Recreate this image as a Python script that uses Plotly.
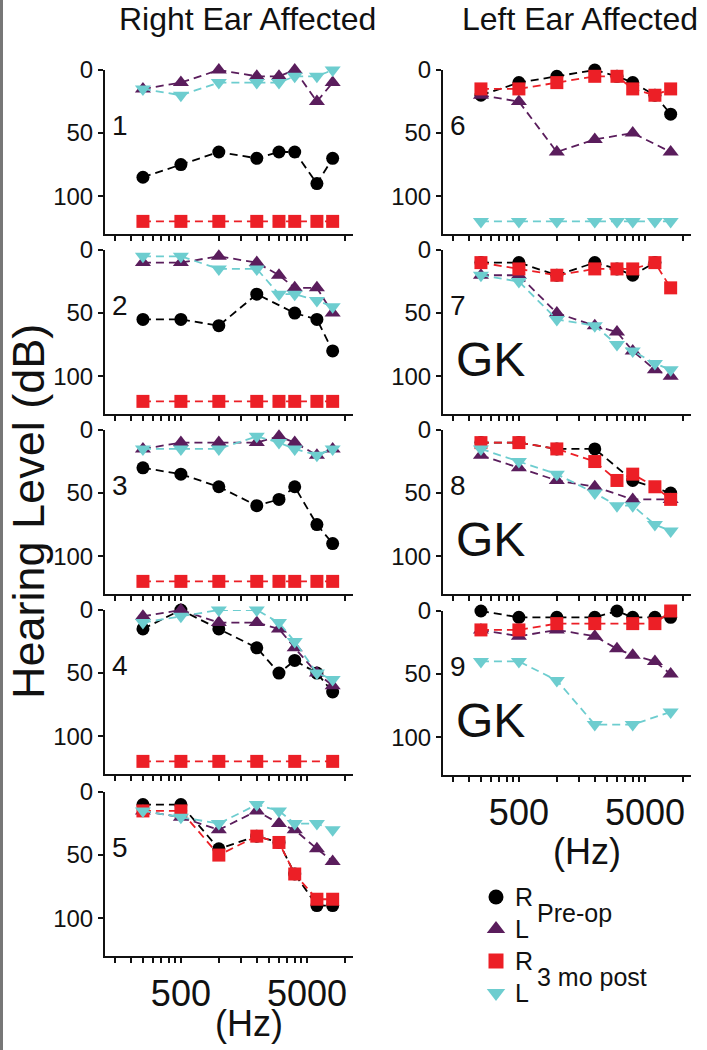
import math
import plotly.graph_objects as go

W, H = 707, 1050

# ---------------- data ----------------
FREQS = [250, 500, 1000, 2000, 3000, 4000, 6000, 8000]

# Right ear affected (panels 1-5)
P1_R_PRE = [85, 75, 65, 70, 65, 65, 90, 70]
P1_L_PRE = [15, 10, 0, 5, 5, 0, 25, 10]
P1_R_POST = [120, 120, 120, 120, 120, 120, 120, 120]
P1_L_POST = [15, 20, 10, 10, 10, 5, 5, 0]

P2_R_PRE = [55, 55, 60, 35, None, 50, 55, 80]
P2_L_PRE = [10, 10, 5, 10, 20, 30, 30, 50]
P2_R_POST = [120, 120, 120, 120, 120, 120, 120, 120]
P2_L_POST = [5, 5, 15, 15, 35, 35, 40, 45]

P3_R_PRE = [30, 35, 45, 60, 55, 45, 75, 90]
P3_L_PRE = [15, 10, 10, 10, 5, 10, 20, 15]
P3_R_POST = [120, 120, 120, 120, 120, 120, 120, 120]
P3_L_POST = [15, 15, 15, 5, 10, 15, 20, 15]

P4_R_PRE = [15, 0, 15, 30, 50, 40, 50, 65]
P4_L_PRE = [5, 0, 10, 10, 15, 30, 50, 60]
P4_R_POST = [120, 120, 120, 120, None, 120, None, 120]
P4_L_POST = [10, 5, 0, 0, 10, 25, 50, 55]

P5_R_PRE = [10, 10, 45, 35, 40, 65, 90, 90]
P5_L_PRE = [15, 20, 30, 15, 25, 30, 45, 55]
P5_R_POST = [15, 15, 50, 35, 40, 65, 85, 85]
P5_L_POST = [15, 20, 25, 10, 15, 25, 25, 30]

# Left ear affected (panels 6-9)
P6_R_PRE = [20, 10, 5, 0, 5, 10, 20, 35]
P6_L_PRE = [20, 25, 65, 55, None, 50, None, 65]
P6_R_POST = [15, 15, 10, 5, 5, 15, 20, 15]
P6_L_POST = [120, 120, 120, 120, 120, 120, 120, 120]

P7_R_PRE = [10, 10, 20, 10, 15, 20, 10, None]
P7_L_PRE = [20, 20, 50, 60, 65, 80, 95, 100]
P7_R_POST = [10, 15, 20, 15, 15, 15, 10, 30]
P7_L_POST = [20, 25, 55, 60, 75, 80, 90, 95]

P8_R_PRE = [10, 10, 15, 15, None, 40, None, 50]
P8_L_PRE = [20, 30, 40, 45, None, 55, None, 55]
P8_R_POST = [10, 10, 15, 25, 40, 35, 45, 55]
P8_L_POST = [15, 25, 35, 50, 60, 60, 75, 80]

P9_R_PRE = [0, 5, 5, 5, 0, 5, 5, 5]
P9_L_PRE = [15, 20, 15, 20, 30, 35, 40, 50]
P9_R_POST = [15, 15, 10, 10, None, 10, 10, 0]
P9_L_POST = [40, 40, 55, 90, None, 90, None, 80]

PANEL_LABELS = ["1", "2", "3", "4", "5", "6", "7", "8", "9"]
GK_PANELS = ["7", "8", "9"]
COLUMN_TITLES = ["Right Ear Affected", "Left Ear Affected"]
Y_TITLE = "Hearing Level (dB)"
X_TITLE = "(Hz)"

XTICK_VALS = [150, 200, 250, 300, 350, 400, 450, 500, 1000, 1500, 2000, 2500,
              3000, 3500, 4000, 4500, 5000, 10000]
XTICK_LABELED = {500: "500", 5000: "5000"}
YTICK_VALS = [0, 50, 100]

LEGEND_SYMBOL_LABELS = ["R", "L", "R", "L"]
LEGEND_GROUPS = ["Pre-op", "3 mo post"]

PANELS = [
    (P1_R_PRE, P1_L_PRE, P1_R_POST, P1_L_POST),
    (P2_R_PRE, P2_L_PRE, P2_R_POST, P2_L_POST),
    (P3_R_PRE, P3_L_PRE, P3_R_POST, P3_L_POST),
    (P4_R_PRE, P4_L_PRE, P4_R_POST, P4_L_POST),
    (P5_R_PRE, P5_L_PRE, P5_R_POST, P5_L_POST),
    (P6_R_PRE, P6_L_PRE, P6_R_POST, P6_L_POST),
    (P7_R_PRE, P7_L_PRE, P7_R_POST, P7_L_POST),
    (P8_R_PRE, P8_L_PRE, P8_R_POST, P8_L_POST),
    (P9_R_PRE, P9_L_PRE, P9_R_POST, P9_L_POST),
]

# ---------------- styles ----------------
FONT = "Liberation Sans, Arial, sans-serif"
SERIES_STYLE = [
    dict(symbol="circle", color="#000000", size=13),
    dict(symbol="triangle-up", color="#5a1d5c", size=14),
    dict(symbol="square", color="#ec1f26", size=13),
    dict(symbol="triangle-down", color="#6dcdcf", size=14),
]

# pixel geometry
COL_X = [(105, 353), (443, 691)]
LEFT_TOPS = [70, 250, 430, 610, 792]
RIGHT_TOPS = [70, 250, 430, 611]
PANEL_H = 164
XRANGE = [math.log10(125), math.log10(11600)]
YRANGE = [130, 0]


def px_x(p):
    return p / W


def px_y(p):
    return 1 - p / H


fig = go.Figure()
layout = dict(
    width=W, height=H,
    margin=dict(l=0, r=0, t=0, b=0, pad=0, autoexpand=False),
    paper_bgcolor="white", plot_bgcolor="white",
    showlegend=False,
    font=dict(family=FONT, color="#111"),
)
annotations = []

positions = [(0, t) for t in LEFT_TOPS] + [(1, t) for t in RIGHT_TOPS]
bottom_panels = {4, 8}

for i, (panel, (col, top)) in enumerate(zip(PANELS, positions)):
    n = i + 1
    xa = "xaxis" if n == 1 else f"xaxis{n}"
    ya = "yaxis" if n == 1 else f"yaxis{n}"
    xr = "x" if n == 1 else f"x{n}"
    yr = "y" if n == 1 else f"y{n}"
    x0, x1 = COL_X[col]
    show_lbl = i in bottom_panels
    layout[xa] = dict(
        type="log", range=XRANGE,
        domain=[px_x(x0), px_x(x1)], anchor=yr, automargin=False,
        showline=True, linecolor="#111", linewidth=2,
        ticks="outside", ticklen=5, tickwidth=1.5, tickcolor="#111",
        tickvals=XTICK_VALS,
        ticktext=[XTICK_LABELED.get(v, "") if show_lbl else "" for v in XTICK_VALS],
        tickfont=dict(size=36, family=FONT, color="#111"),
        showgrid=False, zeroline=False,
    )
    layout[ya] = dict(
        range=YRANGE,
        domain=[px_y(top + PANEL_H), px_y(top)], anchor=xr, automargin=False,
        showline=True, linecolor="#111", linewidth=2,
        ticks="outside", ticklen=5, tickwidth=1.5, tickcolor="#111",
        tickvals=YTICK_VALS, ticktext=[str(v) for v in YTICK_VALS],
        tickfont=dict(size=24, family=FONT, color="#111"),
        showgrid=False, zeroline=False,
    )
    for vals, st in zip(panel, SERIES_STYLE):
        xs = [f for f, v in zip(FREQS, vals) if v is not None]
        ys = [v for v in vals if v is not None]
        fig.add_trace(go.Scatter(
            x=xs, y=ys, xaxis=xr, yaxis=yr,
            mode="lines+markers", cliponaxis=False,
            line=dict(color=st["color"], width=1.8, dash="8px,5px"),
            marker=dict(symbol=st["symbol"], color=st["color"], size=st["size"],
                        line=dict(width=0)),
        ))
    label = PANEL_LABELS[i]
    annotations.append(dict(
        text=label, xref=f"{xr} domain", yref=yr, x=0.02, y=44,
        xanchor="left", yanchor="middle", showarrow=False,
        font=dict(size=28, family=FONT, color="#111"),
    ))
    if label in GK_PANELS:
        annotations.append(dict(
            text="GK", xref=f"{xr} domain", yref=yr, x=0.19, y=87,
            xanchor="center", yanchor="middle", showarrow=False,
            font=dict(size=48, family=FONT, color="#111"),
        ))

# legend panel (own invisible axes)
layout["xaxis10"] = dict(domain=[px_x(480), px_x(512)], range=[0, 1], visible=False,
                         anchor="y10", automargin=False)
layout["yaxis10"] = dict(domain=[px_y(1009), px_y(881)], range=[3.5, -0.5],
                         visible=False, anchor="x10", automargin=False)
for k, st in enumerate(SERIES_STYLE):
    fig.add_trace(go.Scatter(
        x=[0.5], y=[k], xaxis="x10", yaxis="y10", mode="markers", cliponaxis=False,
        marker=dict(symbol=st["symbol"], color=st["color"], size=st["size"] + 2,
                    line=dict(width=0)),
    ))
    annotations.append(dict(
        text=LEGEND_SYMBOL_LABELS[k], xref="paper", yref="y10", x=px_x(513), y=k,
        xanchor="left", yanchor="middle", showarrow=False,
        font=dict(size=25, family=FONT, color="#111"),
    ))
for g, label in enumerate(LEGEND_GROUPS):
    annotations.append(dict(
        text=label, xref="paper", yref="y10", x=px_x(535), y=2 * g + 0.5,
        xanchor="left", yanchor="middle", showarrow=False,
        font=dict(size=25, family=FONT, color="#111"),
    ))

# column titles
for title, cx in zip(COLUMN_TITLES, [247, 580]):
    annotations.append(dict(
        text=title, xref="paper", yref="paper", x=px_x(cx), y=px_y(19),
        xanchor="center", yanchor="middle", showarrow=False,
        font=dict(size=32, family=FONT, color="#111"),
    ))

# x titles
for cx, cy in [(249, 1023), (587, 851)]:
    annotations.append(dict(
        text=X_TITLE, xref="paper", yref="paper", x=px_x(cx), y=px_y(cy),
        xanchor="center", yanchor="middle", showarrow=False,
        font=dict(size=36, family=FONT, color="#111"),
    ))

# y title
annotations.append(dict(
    text=Y_TITLE, xref="paper", yref="paper", x=px_x(28), y=px_y(512),
    xanchor="center", yanchor="middle", showarrow=False, textangle=-90,
    font=dict(size=45, family=FONT, color="#111"),
))

layout["annotations"] = annotations
layout["shapes"] = [dict(type="line", xref="paper", yref="paper",
                         x0=px_x(1.5), x1=px_x(1.5), y0=0, y1=1,
                         line=dict(color="#777", width=3))]

fig.update_layout(**layout)
fig.write_html(
    "out.html",
    config={"displayModeBar": False},
    post_script="document.body.style.margin='0';document.body.style.overflow='hidden';",
)
